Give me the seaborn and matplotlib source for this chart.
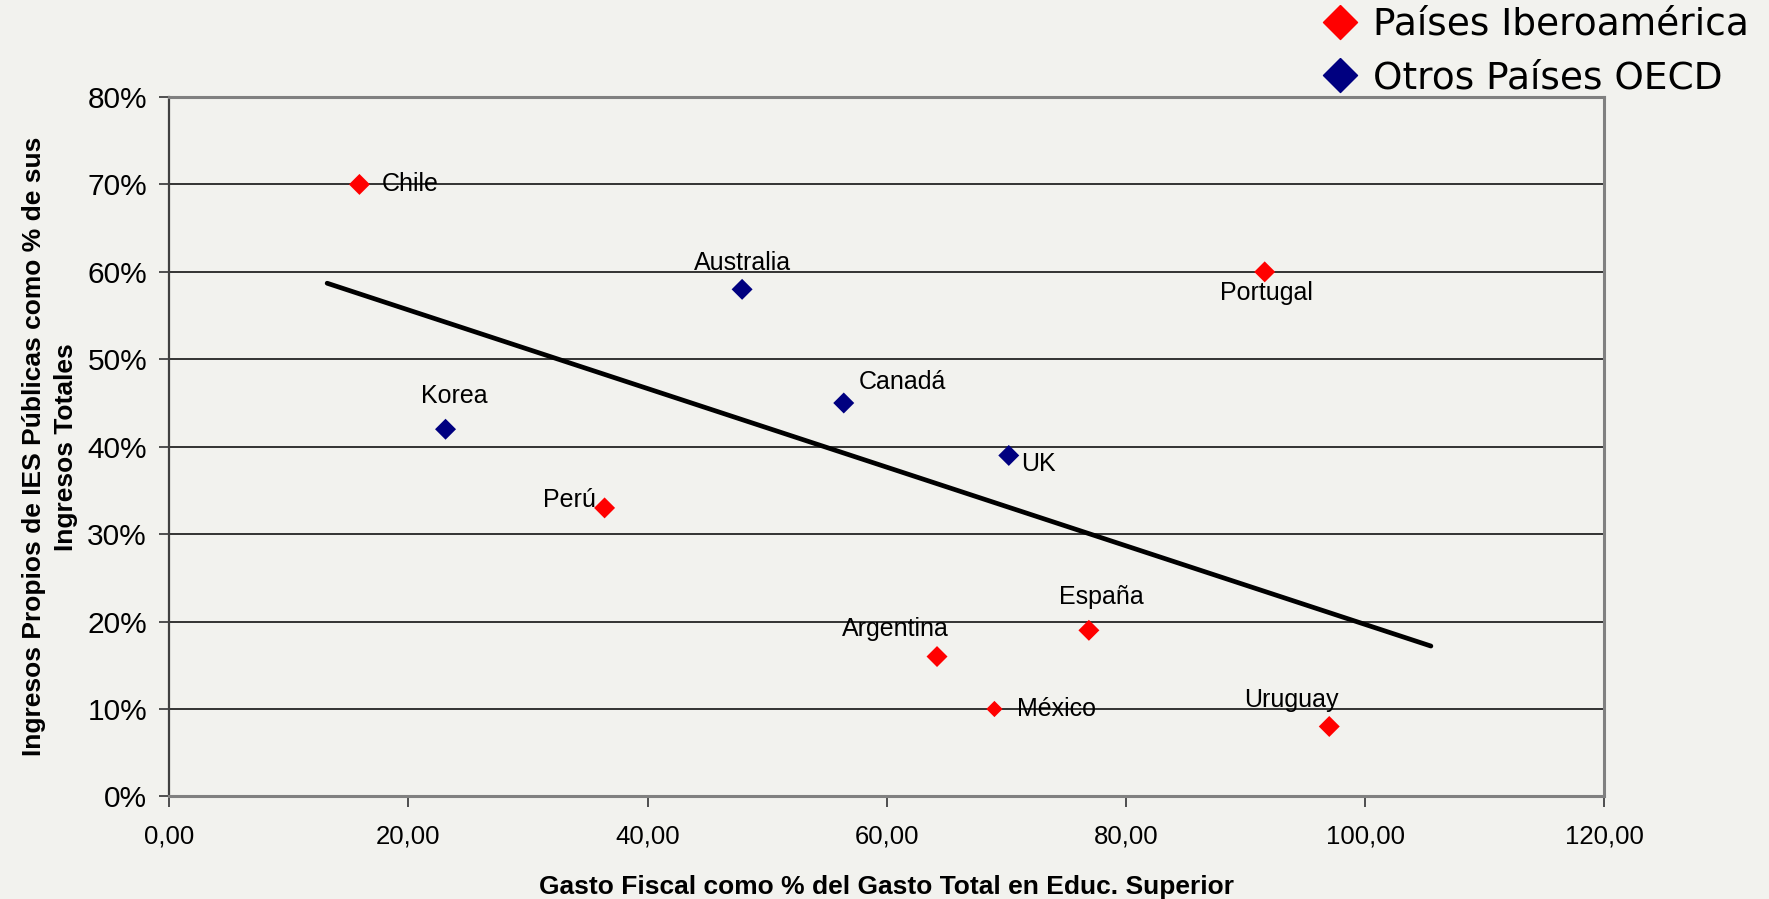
import numpy as np
import pandas as pd
import seaborn as sns
import matplotlib.pyplot as plt
from matplotlib.lines import Line2D
from matplotlib.ticker import FuncFormatter

# datos
paises = ["Chile", "Portugal", "Australia", "Korea", "Canadá", "UK",
          "Perú", "España", "Argentina", "México", "Uruguay"]
gasto_fiscal = [15.9, 91.6, 47.9, 23.1, 56.4, 70.2, 36.4, 76.9, 64.2, 69.0, 97.0]
ingresos_propios = [70, 60, 58, 42, 45, 39, 33, 19, 16, 10, 8]
grupo = ["Países Iberoamérica", "Países Iberoamérica", "Otros Países OECD",
         "Otros Países OECD", "Otros Países OECD", "Otros Países OECD",
         "Países Iberoamérica", "Países Iberoamérica", "Países Iberoamérica",
         "Países Iberoamérica", "Países Iberoamérica"]
grupos = ["Países Iberoamérica", "Otros Países OECD"]

# linea de tendencia (extremos)
tend_x = [13.2, 105.5]
tend_y = [58.7, 17.2]

x_ticks = [0, 20, 40, 60, 80, 100, 120]
y_ticks = [0, 10, 20, 30, 40, 50, 60, 70, 80]

df = pd.DataFrame({"pais": paises, "gasto": gasto_fiscal,
                   "ingresos": ingresos_propios, "grupo": grupo})
df_tend = pd.DataFrame({"x": tend_x, "y": tend_y})

colores = {"Países Iberoamérica": "#ff0000", "Otros Países OECD": "#000080"}
# posicion de las etiquetas: (dx, dy en puntos, alineacion)
etiquetas = {
    "Chile": (16, 0, "left"), "Portugal": (1, -15, "center"),
    "Australia": (0, 19, "center"), "Korea": (6, 24, "center"),
    "Canadá": (11, 15, "left"), "UK": (9, -6, "left"),
    "Perú": (-6, 6, "right"), "España": (9, 24, "center"),
    "Argentina": (-30, 20, "center"), "México": (16, 0, "left"),
    "Uruguay": (-27, 19, "center"),
}

bg = "#f2f2ee"
sns.set_style("white", {"axes.facecolor": bg, "figure.facecolor": bg})
plt.rcParams["font.family"] = ["Liberation Sans", "DejaVu Sans"]
plt.rcParams["text.color"] = "black"

diamante = [(0, 1), (1, 0), (0, -1), (-1, 0), (0, 1)]

fig = plt.figure(figsize=(17.69, 8.99), dpi=100)
ax = fig.add_axes([0.0957, 0.1141, 0.8112, 0.7780])

sns.lineplot(data=df_tend, x="x", y="y", color="black", lw=3.4, ax=ax, zorder=2)

tam = [137 if p == "México" else 228 for p in df["pais"]]
sns.scatterplot(data=df, x="gasto", y="ingresos", hue="grupo", palette=colores,
                marker=diamante, s=tam, linewidth=0, legend=False, ax=ax, zorder=3)

for _, r in df.iterrows():
    dx, dy, ha = etiquetas[r["pais"]]
    ax.annotate(r["pais"], (r["gasto"], r["ingresos"]), xytext=(dx, dy),
                textcoords="offset points", ha=ha, va="center", fontsize=18,
                color="black", zorder=4)

ax.set_xlim(0, 120)
ax.set_ylim(0, 80)
ax.set_xticks(x_ticks)
ax.set_yticks(y_ticks)
ax.xaxis.set_major_formatter(FuncFormatter(lambda v, p: f"{v:.2f}".replace(".", ",")))
ax.yaxis.set_major_formatter(FuncFormatter(lambda v, p: f"{v:.0f}%"))
ax.tick_params(axis="y", labelsize=21.5, length=7, width=1.2, color="#333333", pad=9,
               left=True, labelcolor="black")
ax.tick_params(axis="x", labelsize=18.5, length=8, width=1.2, color="#333333", pad=12,
               bottom=True, labelcolor="black")
ax.grid(axis="y", color="black", lw=1.1)
ax.grid(axis="x", visible=False)

for s in ["top", "right", "bottom"]:
    ax.spines[s].set_color("#808080")
    ax.spines[s].set_linewidth(2.2)
ax.spines["left"].set_color("#404040")
ax.spines["left"].set_linewidth(1.6)
for s in ax.spines.values():
    s.set_zorder(5)

ax.set_xlabel("Gasto Fiscal como % del Gasto Total en Educ. Superior",
              fontsize=19, fontweight="bold", labelpad=19, color="black")
ax.set_ylabel("Ingresos Propios de IES Públicas como % de sus\nIngresos Totales",
              fontsize=19, fontweight="bold", labelpad=7, linespacing=1.38,
              color="black")

handles = [Line2D([], [], marker=diamante, color=colores[g], linestyle="none",
                  markersize=24.5) for g in grupos]
leg = fig.legend(handles, grupos, loc="upper left", bbox_to_anchor=(0.7467, 0.9924),
                 frameon=False, prop={"family": "DejaVu Sans", "size": 27},
                 handlelength=1.0, handletextpad=0.38, labelspacing=0.46,
                 borderpad=0, borderaxespad=0)
for t in leg.get_texts():
    t.set_color("black")

fig.savefig("out.png", dpi=100, facecolor=bg)
